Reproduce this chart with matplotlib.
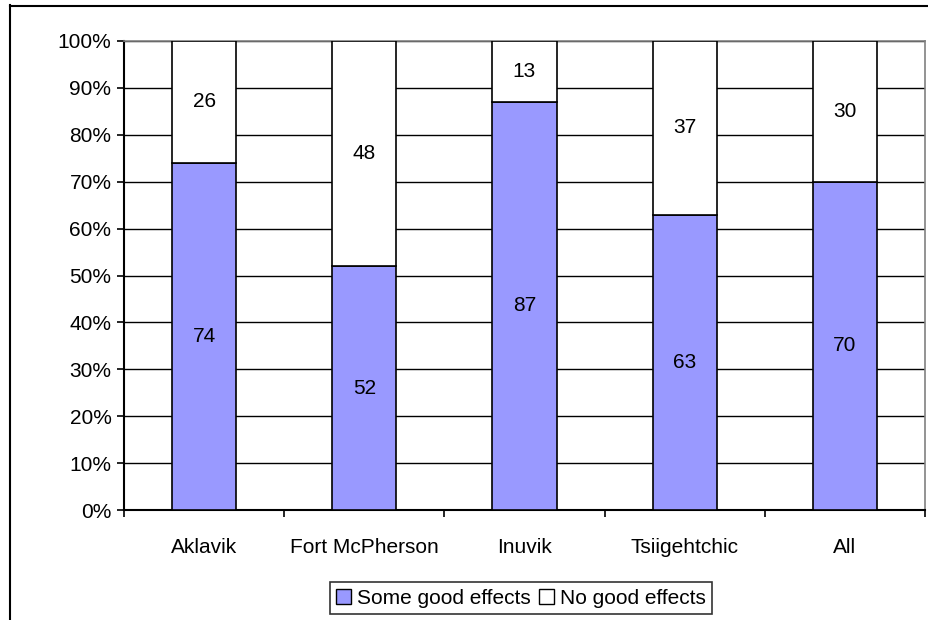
import matplotlib
matplotlib.use("Agg")
import matplotlib.pyplot as plt
from matplotlib.lines import Line2D
from matplotlib.patches import Patch
import numpy as np

communities = ["Aklavik", "Fort McPherson", "Inuvik", "Tsiigehtchic", "All"]
some_good = [74, 52, 87, 63, 70]
no_good = [26, 48, 13, 37, 30]
series_names = ["Some good effects", "No good effects"]
y_ticks = [0, 10, 20, 30, 40, 50, 60, 70, 80, 90, 100]

plt.rcParams["font.family"] = ["Liberation Sans", "DejaVu Sans"]
FS = 15

W, H = 929, 620
fig = plt.figure(figsize=(W / 100, H / 100), dpi=100)
ax = fig.add_axes([124 / W, 1 - 510 / H, (925 - 124) / W, (510 - 41) / H])

x = np.arange(len(communities))
purple = "#9999FF"
ax.bar(x, some_good, width=0.4, color=purple, edgecolor="#000000", linewidth=1.2, zorder=3)
ax.bar(x, no_good, bottom=some_good, width=0.4, color="white", edgecolor="#000000", linewidth=1.2, zorder=3)

for xi, a, b in zip(x, some_good, no_good):
    ax.text(xi, a / 2, f"{a}", ha="center", va="center", fontsize=FS, zorder=4)
    ax.text(xi, a + b / 2, f"{b}", ha="center", va="center", fontsize=FS, zorder=4)

ax.set_xlim(-0.5, len(communities) - 0.5)
ax.set_ylim(0, 100)
ax.set_yticks(y_ticks)
ax.set_yticklabels([f"{t}%" for t in y_ticks], fontsize=FS)
ax.yaxis.grid(True, color="black", linewidth=1.0, zorder=0)
ax.set_axisbelow(True)

ax.set_xticks(x)
ax.set_xticklabels(communities, fontsize=FS)
ax.tick_params(axis="x", length=0, pad=20)
ax.set_xticks(np.arange(-0.5, len(communities)), minor=True)
ax.tick_params(axis="x", which="minor", length=5, width=1.2, direction="out", color="black")
ax.tick_params(axis="y", length=5, width=1.2, direction="out", pad=4)

for side in ("top", "right"):
    ax.spines[side].set_color("#808080")
    ax.spines[side].set_linewidth(1.2)
for side in ("left", "bottom"):
    ax.spines[side].set_color("black")
    ax.spines[side].set_linewidth(1.5)

# chart-area frame
fig.add_artist(Line2D([10.5 / W, 10.5 / W], [0, 1 - 5 / H], transform=fig.transFigure, color="black", linewidth=1.5))
fig.add_artist(Line2D([10 / W, 1], [1 - 5.5 / H, 1 - 5.5 / H], transform=fig.transFigure, color="black", linewidth=1.5))

handles = [Patch(facecolor=purple, edgecolor="black", linewidth=1.0),
           Patch(facecolor="white", edgecolor="black", linewidth=1.0)]
leg = fig.legend(handles, series_names, loc="center", bbox_to_anchor=(521 / W, 1 - 598 / H),
                 ncol=2, fontsize=FS, frameon=True, fancybox=False, edgecolor="black",
                 handlelength=0.7, handleheight=0.7, handletextpad=0.3, columnspacing=0.4,
                 borderpad=0.3, borderaxespad=0)
leg.get_frame().set_linewidth(1.2)

fig.savefig("out.png", dpi=100)
